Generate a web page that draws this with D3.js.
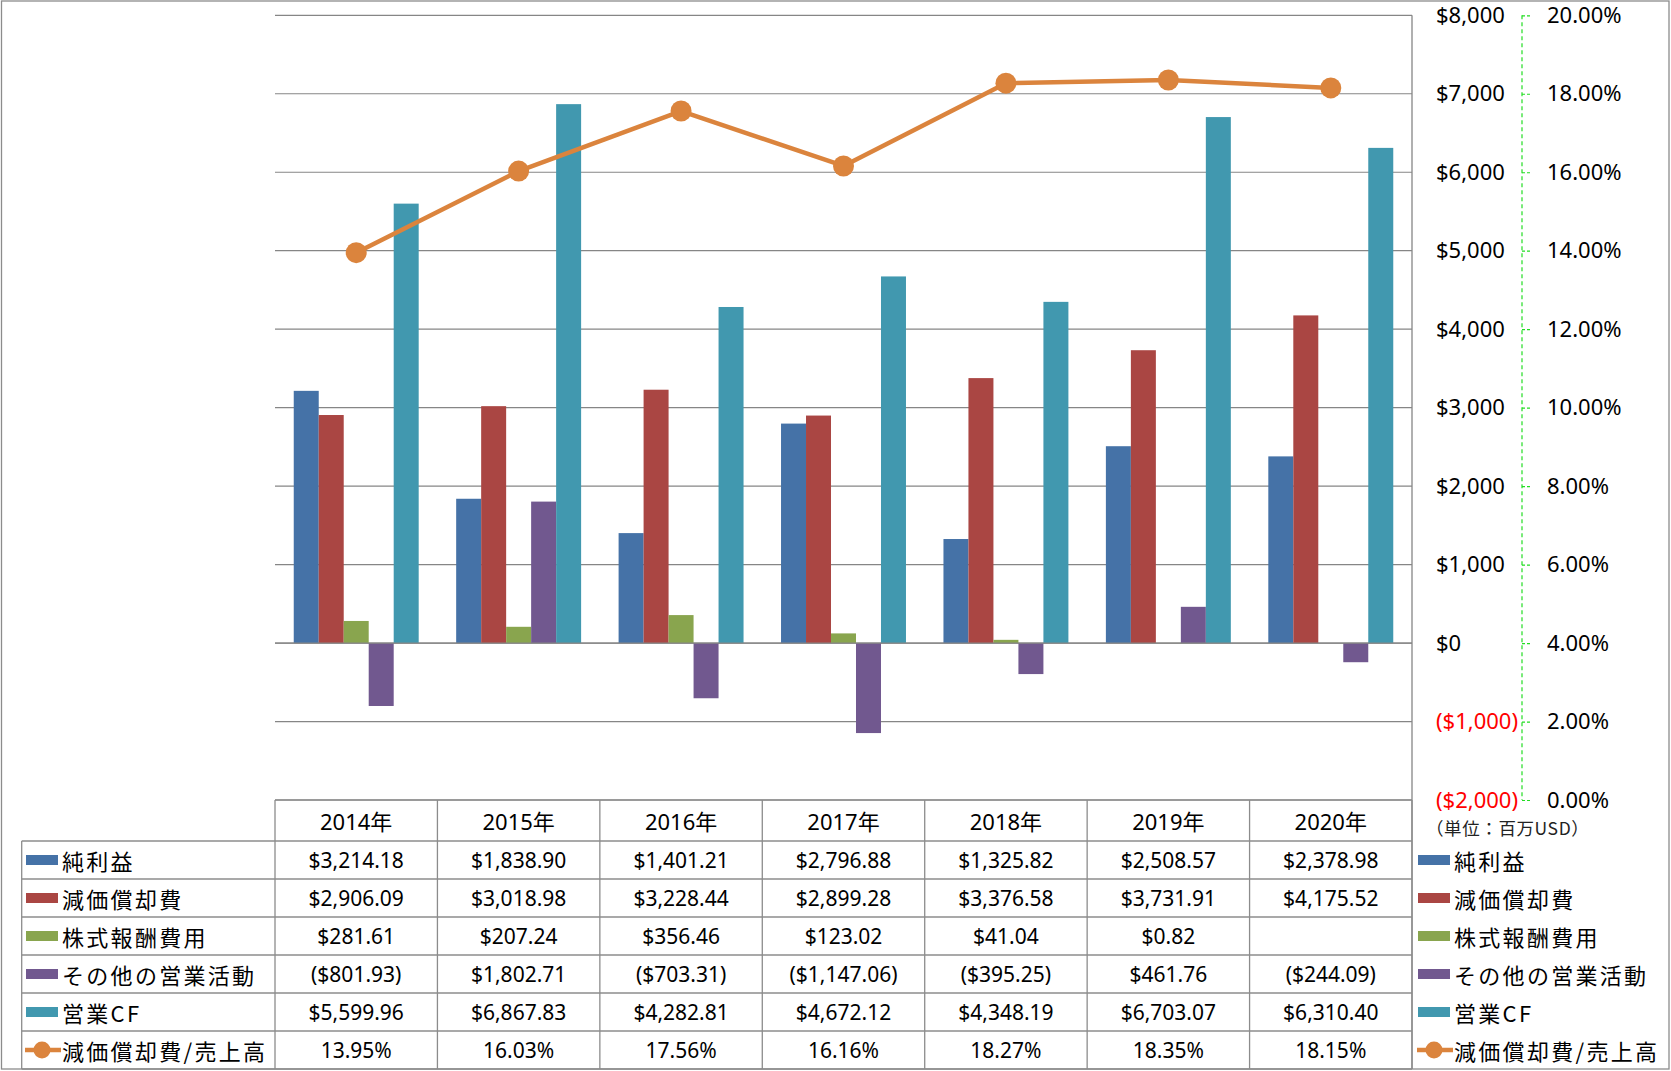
<!DOCTYPE html>
<html>
<head>
<meta charset="utf-8">
<script src="https://cdn.jsdelivr.net/npm/d3@7"></script>
<style>
  html, body { margin: 0; padding: 0; background: #fff; }
  svg { display: block; }
  text { font-family: "Noto Sans", "Noto Sans CJK JP", sans-serif; fill: #000; }
  .jp { font-family: "Noto Sans CJK JP", "Noto Sans", sans-serif; }
</style>
</head>
<body>
<svg id="chart" width="1671" height="1071"></svg>
<script>
// ---------- DATA ----------
const years = ["2014年", "2015年", "2016年", "2017年", "2018年", "2019年", "2020年"];
const barSeries = ["純利益", "減価償却費", "株式報酬費用", "その他の営業活動", "営業CF"];
const netIncome = [3214.18, 1838.90, 1401.21, 2796.88, 1325.82, 2508.57, 2378.98];
const depreciation = [2906.09, 3018.98, 3228.44, 2899.28, 3376.58, 3731.91, 4175.52];
const stockComp = [281.61, 207.24, 356.46, 123.02, 41.04, 0.82, null];
const otherOps = [-801.93, 1802.71, -703.31, -1147.06, -395.25, 461.76, -244.09];
const operatingCF = [5599.96, 6867.83, 4282.81, 4672.12, 4348.19, 6703.07, 6310.40];
const lineName = "減価償却費/売上高";
const deprRatio = [13.95, 16.03, 17.56, 16.16, 18.27, 18.35, 18.15];
const leftTicks = [-2000, -1000, 0, 1000, 2000, 3000, 4000, 5000, 6000, 7000, 8000];
const rightTicks = [0, 2, 4, 6, 8, 10, 12, 14, 16, 18, 20];
const unitLabel = "（単位：百万USD）";

const barValues = [netIncome, depreciation, stockComp, otherOps, operatingCF];
const colors = ["#4572A7", "#AA4643", "#89A54E", "#71588F", "#4198AF"];
const lineColor = "#DB843D";

// ---------- LAYOUT ----------
const plotL = 275, plotR = 1412, plotT = 15.3, plotB = 800;
const rowTops = [800, 841, 879, 917, 955, 993, 1031, 1069];
const rowHeadL = 21.7;

const svg = d3.select("#chart");

// outer border
svg.append("rect").attr("x", 1.5).attr("y", 1).attr("width", 1667.5).attr("height", 1068)
  .attr("fill", "none").attr("stroke", "#8c8c8c").attr("stroke-width", 1.3);

const x = d3.scaleBand().domain(years).range([plotL, plotR]).padding(0);
const xs = d3.scaleBand().domain(barSeries).range([0, x.bandwidth()]).paddingInner(0).paddingOuter(0.75);
const y = d3.scaleLinear().domain([-2000, 8000]).range([plotB, plotT]);
const y2 = d3.scaleLinear().domain([0, 20]).range([plotB, plotT]);

const fmtMoney = v => {
  const s = "$" + d3.format(",.2f")(Math.abs(v));
  return v < 0 ? "(" + s + ")" : s;
};
const fmtAxis = v => {
  const s = "$" + d3.format(",")(Math.abs(v));
  return v < 0 ? "(" + s + ")" : s;
};

// gridlines
svg.append("g").selectAll("line").data(leftTicks).join("line")
  .attr("x1", plotL).attr("x2", plotR)
  .attr("y1", d => y(d)).attr("y2", d => y(d))
  .attr("stroke", "#868686").attr("stroke-width", 1.2);

// bars
barSeries.forEach((name, si) => {
  svg.append("g").selectAll("rect")
    .data(years.map((yr, i) => ({ yr, v: barValues[si][i] })).filter(d => d.v !== null))
    .join("rect")
    .attr("x", d => x(d.yr) + xs(name))
    .attr("width", xs.bandwidth())
    .attr("y", d => Math.min(y(d.v), y(0)))
    .attr("height", d => Math.abs(y(d.v) - y(0)))
    .attr("fill", colors[si]);
});
// redraw zero line on top
svg.append("line").attr("x1", plotL).attr("x2", plotR).attr("y1", y(0)).attr("y2", y(0))
  .attr("stroke", "#868686").attr("stroke-width", 1.2);

// line series
const lineGen = d3.line().x((d, i) => x(years[i]) + x.bandwidth() / 2).y(d => y2(d));
svg.append("path").datum(deprRatio).attr("d", lineGen)
  .attr("fill", "none").attr("stroke", lineColor).attr("stroke-width", 4.5)
  .attr("stroke-linejoin", "round");
svg.append("g").selectAll("circle").data(deprRatio).join("circle")
  .attr("cx", (d, i) => x(years[i]) + x.bandwidth() / 2)
  .attr("cy", d => y2(d)).attr("r", 10.5).attr("fill", lineColor);

// primary axis (right of plot)
const axL = svg.append("g").attr("transform", `translate(${plotR},0)`)
  .call(d3.axisRight(y).tickValues(leftTicks).tickSize(0).tickPadding(24).tickFormat(fmtAxis));
axL.select(".domain").remove();
axL.selectAll("text").attr("font-size", 22).style("font-family", "Noto Sans")
  .style("fill", d => d < 0 ? "#FF0000" : "#000");
svg.append("line").attr("x1", plotR).attr("x2", plotR).attr("y1", plotT).attr("y2", rowTops[7])
  .attr("stroke", "#868686").attr("stroke-width", 1.3);

// secondary axis
const ax2x = 1522;
const axR = svg.append("g").attr("transform", `translate(${ax2x},0)`)
  .call(d3.axisRight(y2).tickValues(rightTicks).tickSize(9).tickPadding(16)
    .tickFormat(d => d3.format(".2f")(d) + "%"));
axR.select(".domain").remove();
axR.append("line").attr("x1", 0).attr("x2", 0).attr("y1", plotT).attr("y2", plotB)
  .attr("stroke", "#22dd22").attr("stroke-width", 1.2).attr("stroke-dasharray", "4,3");
axR.selectAll(".tick line").attr("stroke", "#22dd22").attr("stroke-width", 1.2).attr("stroke-dasharray", "3,2");
axR.selectAll("text").attr("font-size", 22).style("font-family", "Noto Sans").style("fill", "#000");

// unit label
svg.append("text").attr("class", "jp").attr("x", 1426).attr("y", 835)
  .attr("font-size", 17.5).style("fill", "#222").attr("letter-spacing", 0.6).text(unitLabel);

// ---------- DATA TABLE ----------
const tg = svg.append("g");
const gridStroke = "#8c8c8c";
// horizontal lines
rowTops.forEach((ty, i) => {
  tg.append("line").attr("x1", i === 0 ? plotL : rowHeadL).attr("x2", plotR)
    .attr("y1", ty).attr("y2", ty).attr("stroke", gridStroke).attr("stroke-width", 1.3);
});
// vertical lines
const colEdges = years.map(d => x(d)).concat([plotR]);
colEdges.forEach(cx => {
  tg.append("line").attr("x1", cx).attr("x2", cx).attr("y1", rowTops[0]).attr("y2", rowTops[7])
    .attr("stroke", gridStroke).attr("stroke-width", 1.3);
});
tg.append("line").attr("x1", rowHeadL).attr("x2", rowHeadL).attr("y1", rowTops[1]).attr("y2", rowTops[7])
  .attr("stroke", gridStroke).attr("stroke-width", 1.3);

// header
tg.selectAll("text.hdr").data(years).join("text").attr("class", "hdr")
  .attr("x", d => x(d) + x.bandwidth() / 2).attr("y", (rowTops[0] + rowTops[1]) / 2)
  .attr("text-anchor", "middle").attr("dominant-baseline", "central")
  .attr("font-size", 22).text(d => d);

const rows = barSeries.map((name, si) => ({ name, vals: barValues[si], fmt: fmtMoney, color: colors[si], type: "bar" }))
  .concat([{ name: lineName, vals: deprRatio, fmt: v => d3.format(".2f")(v) + "%", color: lineColor, type: "line" }]);

function legendKey(g, r, kx, cy) {
  if (r.type === "bar") {
    g.append("rect").attr("x", kx).attr("y", cy - 5).attr("width", 32).attr("height", 10).attr("fill", r.color);
  } else {
    g.append("line").attr("x1", kx - 1).attr("x2", kx + 35).attr("y1", cy).attr("y2", cy)
      .attr("stroke", r.color).attr("stroke-width", 4.5);
    g.append("circle").attr("cx", kx + 16).attr("cy", cy).attr("r", 8.5).attr("fill", r.color);
  }
}

rows.forEach((r, ri) => {
  const cy = (rowTops[ri + 1] + rowTops[ri + 2]) / 2;
  // left legend
  legendKey(tg, r, 26, cy);
  tg.append("text").attr("class", "jp").attr("x", 62).attr("y", cy)
    .attr("dominant-baseline", "central").attr("font-size", 22).attr("letter-spacing", 2.3).text(r.name);
  // values
  r.vals.forEach((v, i) => {
    if (v === null) return;
    tg.append("text").attr("x", x(years[i]) + x.bandwidth() / 2).attr("y", cy)
      .attr("text-anchor", "middle").attr("dominant-baseline", "central")
      .attr("font-size", 21).text(r.fmt(v));
  });
  // right legend
  legendKey(tg, r, 1418, cy);
  tg.append("text").attr("class", "jp").attr("x", 1454).attr("y", cy)
    .attr("dominant-baseline", "central").attr("font-size", 22).attr("letter-spacing", 2.3).text(r.name);
});
</script>
</body>
</html>
